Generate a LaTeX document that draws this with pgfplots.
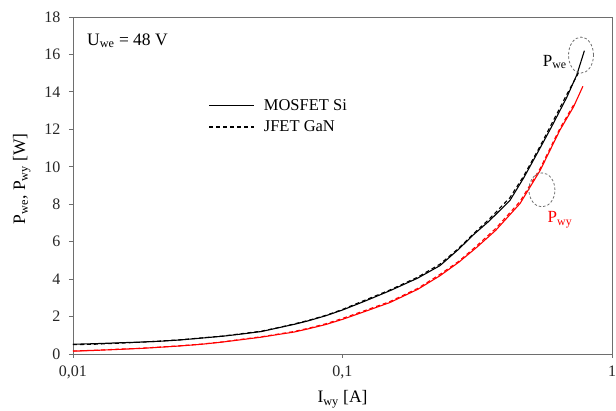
\documentclass[border=0pt]{standalone}
\usepackage{fontspec}
\setmainfont{Liberation Serif}
\usepackage{pgfplots}
\pgfplotsset{compat=1.18}
\definecolor{axgray}{RGB}{110,110,110}
\definecolor{myred}{RGB}{255,0,0}
\begin{document}
\begin{tikzpicture}
\begin{axis}[
  at={(0pt,0pt)}, anchor=south west,
  scale only axis, width=539pt, height=337pt,
  xmode=log, xmin=0.01, xmax=1, ymin=0, ymax=18,
  xtick={0.01,0.1,1}, xticklabels={{0,01},{0,1},{1}},
  xminorticks=false,
  ytick={0,2,4,6,8,10,12,14,16,18},
  tick align=outside, tick pos=left,
  major tick length=4pt,
  axis line style={axgray, line width=0.9pt},
  tick style={axgray, line width=0.9pt},
  /pgf/number format/assume math mode=true,
  ticklabel style={font=\fontsize{16}{18}\selectfont, text=black!85},
  yticklabel shift=5pt, xticklabel shift=4pt,
  xlabel={I\textsubscript{wy} [A]},
  ylabel={P\textsubscript{we}, P\textsubscript{wy} [W]},
  label style={font=\fontsize{17.5}{20}\selectfont},
  xlabel style={at={(axis description cs:0.5,-0.135)}, anchor=center},
  ylabel style={at={(axis description cs:-0.095,0.52)}, anchor=center},
  legend style={draw=none, fill=none,
    at={(axis description cs:0.246,0.768)}, anchor=north west,
    font=\fontsize{16.5}{19}\selectfont, row sep=5pt,
    /tikz/every odd column/.append style={column sep=7pt}},
  legend cell align=left,
  legend image code/.code={\draw[#1] (0pt,0pt) -- (45pt,0pt);},
]
\addplot[black, line width=1.1pt] coordinates {
(0.01,0.52)(0.012,0.55)(0.015,0.6)(0.018,0.64)(0.021,0.68)(0.025,0.75)(0.03,0.85)(0.036,0.95)(0.043,1.08)(0.05,1.2)(0.057,1.38)(0.066,1.58)(0.075,1.78)(0.087,2.05)(0.1,2.35)(0.12,2.8)(0.15,3.38)(0.19,4.05)(0.23,4.72)(0.27,5.6)(0.305,6.35)(0.35,7.1)(0.418,8.2)(0.47,9.4)(0.541,11.0)(0.6,12.2)(0.679,13.7)(0.74,14.9)(0.79,16.2)};
\addlegendentry{MOSFET Si}
\addplot[black, line width=1.1pt, dash pattern=on 4pt off 3pt] coordinates {
(0.01,0.5)(0.012,0.52)(0.015,0.58)(0.018,0.63)(0.021,0.69)(0.025,0.76)(0.03,0.86)(0.036,0.96)(0.043,1.1)(0.05,1.22)(0.057,1.39)(0.066,1.6)(0.075,1.8)(0.087,2.07)(0.1,2.38)(0.12,2.85)(0.15,3.42)(0.19,4.1)(0.23,4.8)(0.27,5.65)(0.305,6.4)(0.35,7.2)(0.418,8.35)(0.47,9.5)(0.541,11.1)(0.6,12.35)(0.679,13.85)(0.75,15.0)};
\addlegendentry{JFET GaN}
\addplot[myred, line width=1.1pt] coordinates {
(0.01,0.15)(0.012,0.19)(0.015,0.25)(0.018,0.3)(0.021,0.36)(0.025,0.43)(0.03,0.52)(0.036,0.64)(0.043,0.78)(0.05,0.9)(0.057,1.03)(0.066,1.17)(0.075,1.35)(0.087,1.58)(0.1,1.85)(0.12,2.25)(0.15,2.75)(0.19,3.45)(0.23,4.18)(0.27,4.9)(0.315,5.7)(0.37,6.6)(0.456,8.04)(0.541,9.8)(0.641,11.96)(0.72,13.2)(0.78,14.3)};
\addplot[myred, line width=1.1pt, dash pattern=on 4pt off 3pt] coordinates {
(0.01,0.16)(0.012,0.2)(0.015,0.26)(0.018,0.31)(0.021,0.37)(0.025,0.44)(0.03,0.53)(0.036,0.65)(0.043,0.8)(0.05,0.92)(0.057,1.05)(0.066,1.2)(0.075,1.38)(0.087,1.62)(0.1,1.9)(0.12,2.3)(0.15,2.8)(0.19,3.5)(0.23,4.25)(0.27,4.95)(0.315,5.78)(0.37,6.7)(0.456,8.15)(0.541,9.9)(0.641,12.05)(0.72,13.3)};
\node[anchor=west, inner sep=0pt, font=\fontsize{17.5}{20}\selectfont] at (axis description cs:0.026,0.929) {U\textsubscript{we} = 48 V};
\node[inner sep=0pt, font=\fontsize{17}{20}\selectfont] at (axis description cs:0.894,0.866) {P\textsubscript{we}};
\node[inner sep=0pt, font=\fontsize{17}{20}\selectfont, text=myred] at (axis description cs:0.9035,0.398) {P\textsubscript{wy}};
\draw[axgray, line width=0.8pt, dash pattern=on 2.5pt off 2pt] (axis description cs:0.9425,0.887) ellipse (12.5pt and 18pt);
\draw[axgray, line width=0.8pt, dash pattern=on 2.5pt off 2pt] (axis description cs:0.870,0.487) ellipse (13pt and 17pt);
\end{axis}
\pgfresetboundingbox
\useasboundingbox (-73pt,-57pt) rectangle (543pt,354pt);
\end{tikzpicture}
\end{document}
